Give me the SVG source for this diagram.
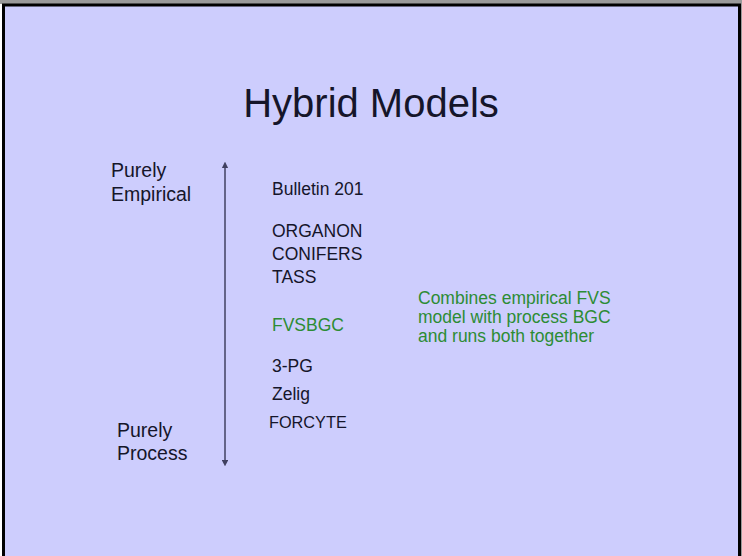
<svg xmlns="http://www.w3.org/2000/svg" width="742" height="556" viewBox="0 0 742 556">
<style>
text{font-family:"Liberation Sans",Arial,sans-serif;fill:#15152a}
.lbl{font-size:19.5px}
.item{font-size:17.5px}
.green{fill:#2c8c34;font-size:17.5px}
</style>
<defs>
<marker id="ah" viewBox="0 0 10 10" refX="5" refY="5" markerWidth="4.5" markerHeight="4.5" orient="auto-start-reverse">
<path d="M0,0 L10,5 L0,10 z" fill="#404060"/>
</marker>
</defs>
<rect x="0" y="0" width="742" height="556" fill="#ffffff"/>
<rect x="0" y="0" width="742" height="4" fill="#9a9a9a"/>
<rect x="740" y="0" width="2" height="556" fill="#9a9a9a"/>
<rect x="3.5" y="5" width="736" height="560" fill="#CDCDFD" stroke="#000" stroke-width="3"/>
<g id="title"><text x="371" y="117" font-size="40" text-anchor="middle">Hybrid Models</text></g>
<g id="connectors">
<line x1="225" y1="165" x2="225" y2="463" stroke="#404060" stroke-width="1.5" marker-start="url(#ah)" marker-end="url(#ah)"/>
</g>
<g id="empirical"><text class="lbl" x="111" y="177">Purely</text><text class="lbl" x="111" y="201">Empirical</text></g>
<g id="process"><text class="lbl" x="117" y="437">Purely</text><text class="lbl" x="117" y="460">Process</text></g>
<g id="bulletin"><text class="item" x="272" y="195">Bulletin 201</text></g>
<g id="organon"><text class="item" x="272" y="237">ORGANON</text><text class="item" x="272" y="260">CONIFERS</text><text class="item" x="272" y="283">TASS</text></g>
<g id="fvsbgc"><text class="item green" x="272" y="331">FVSBGC</text></g>
<g id="pg"><text class="item" x="272" y="372">3-PG</text></g>
<g id="zelig"><text class="item" x="272" y="400">Zelig</text></g>
<g id="forcyte"><text x="269" y="428" font-size="16.3">FORCYTE</text></g>
<g id="note"><text class="green" x="418" y="304">Combines empirical FVS</text><text class="green" x="418" y="323">model with process BGC</text><text class="green" x="418" y="342">and runs both together</text></g>
</svg>
